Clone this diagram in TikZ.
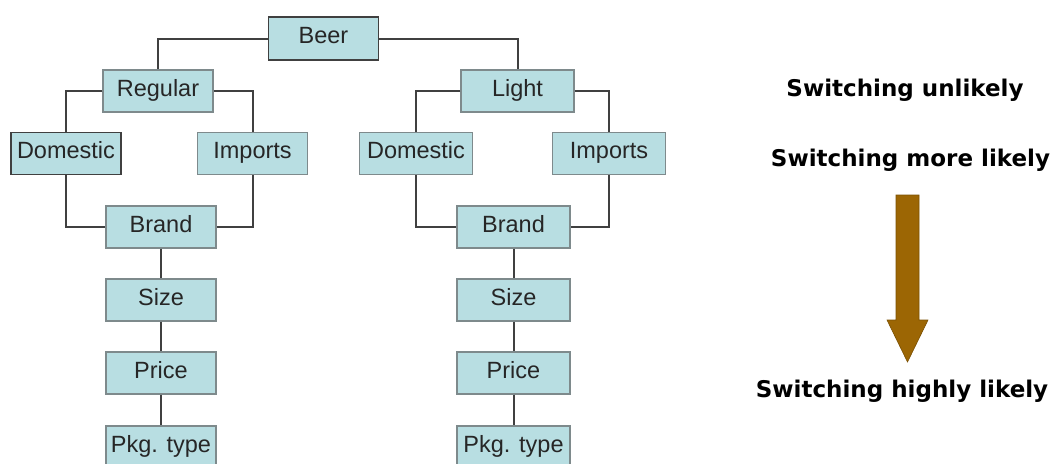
\documentclass[tikz,border=0pt]{standalone}
\usepackage{fontspec}
\setmainfont{Liberation Sans}
\newfontfamily\notefont{DejaVu Sans}
\definecolor{boxfill}{HTML}{B8DEE2}
\definecolor{boxedge}{HTML}{7E8A8C}
\definecolor{linkgray}{HTML}{404040}
\definecolor{textgray}{HTML}{262626}
\definecolor{arrowbrown}{HTML}{9C6604}
\definecolor{arrowedge}{HTML}{7A5003}
\tikzset{
  cat/.style={draw=boxedge, line width=1.2pt, fill=boxfill, text=textgray,
    minimum width=110pt, minimum height=42pt, inner sep=0pt,
    text height=17pt, text depth=6.5pt,
    font=\fontsize{23.5}{28}\selectfont},
  catwide/.style={cat, minimum width=113pt},
  catdark/.style={draw=linkgray, line width=1.7pt},
  link/.style={draw=linkgray, line width=2pt},
  note/.style={anchor=base, inner sep=0pt, text=black,
    font=\notefont\bfseries\fontsize{23}{28}\selectfont}
}
\begin{document}
\begin{tikzpicture}[x=1pt, y=-1pt]
\useasboundingbox (0,0) rectangle (1057,463);
\clip (0,0) rectangle (1057,463);

% root
\node[cat, catdark, minimum height=43pt] (beer) at (323.5,38.5) {Beer};

% regular beer branch
\node[cat] (reg) at (158,91) {Regular};
\node[cat, catdark] (domL) at (66,153.5) {Domestic};
\node[cat] (impL) at (252.5,153.5) {Imports};
\node[cat] (brandL) at (161,227) {Brand};
\node[cat] (sizeL) at (161,300) {Size};
\node[cat] (priceL) at (161,373) {Price};
\node[cat] (pkgL) at (161,447) {Pkg. type};

% light beer branch
\node[catwide] (light) at (517.5,91) {Light};
\node[catwide] (domR) at (416,153.5) {Domestic};
\node[catwide] (impR) at (609,153.5) {Imports};
\node[catwide] (brandR) at (513.5,227) {Brand};
\node[catwide] (sizeR) at (513.5,300) {Size};
\node[catwide] (priceR) at (513.5,373) {Price};
\node[catwide] (pkgR) at (513.5,447) {Pkg. type};

% tree connectors
\path[link] (beer.west) -| (reg.north);
\path[link] (beer.east) -| (light.north);
\path[link] (reg.west) -| (domL.north);
\path[link] (reg.east) -| (impL.north);
\path[link] (domL.south) |- (brandL.west);
\path[link] (impL.south) |- (brandL.east);
\path[link] (brandL.south) -- (sizeL.north);
\path[link] (sizeL.south) -- (priceL.north);
\path[link] (priceL.south) -- (pkgL.north);
\path[link] (light.west) -| (domR.north);
\path[link] (light.east) -| (impR.north);
\path[link] (domR.south) |- (brandR.west);
\path[link] (impR.south) |- (brandR.east);
\path[link] (brandR.south) -- (sizeR.north);
\path[link] (sizeR.south) -- (priceR.north);
\path[link] (priceR.south) -- (pkgR.north);

% likelihood scale
\node[note] (unlikely) at (905,96) {Switching unlikely};
\node[note] (more) at (910.5,166) {Switching more likely};
\node[note] (highly) at (902,397) {Switching highly likely};
\fill[arrowbrown, draw=arrowedge, line width=0.6pt]
  (896,195) -- (919,195) -- (919,320) -- (928,320) -- (907.5,362)
  -- (887,320) -- (896,320) -- cycle;
\end{tikzpicture}
\end{document}
